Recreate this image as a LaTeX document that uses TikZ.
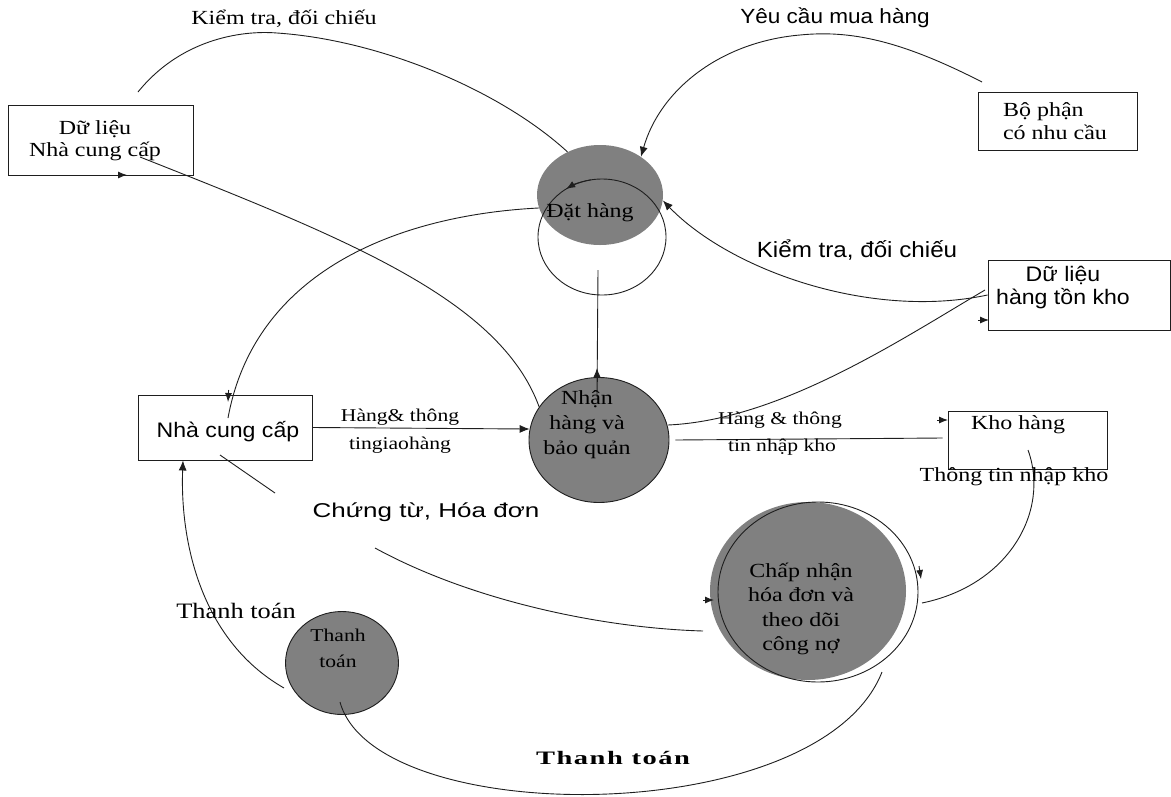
\documentclass[tikz,border=0pt]{standalone}
\usepackage{fontspec}
\setmainfont{Liberation Serif}
\newfontfamily\dfdserif[FakeStretch=1.2]{Liberation Serif}
\newfontfamily\dfdsans[FakeStretch=1.1]{Liberation Sans}
\newfontfamily\dfdsanswide[FakeStretch=1.3]{Liberation Sans}
\newfontfamily\dfdwide[FakeStretch=1.5,LetterSpace=8]{Liberation Serif}
\usetikzlibrary{arrows.meta,shapes.geometric}
\definecolor{procgray}{RGB}{128,128,128}
\definecolor{inkline}{RGB}{30,30,30}

\begin{document}
\begin{tikzpicture}[x=1pt,y=-1pt,
  line/.style={draw=inkline,line width=0.9pt},
  arr/.style={line,-{Latex[length=10pt,width=8pt]}},
  arrowmark/.style={draw=inkline,line width=0.9pt,-{Latex[length=9pt,width=7pt]}},
  box/.style={draw=inkline,line width=0.9pt,rectangle,inner sep=0pt},
  proc/.style={ellipse,fill=procgray,inner sep=0pt},
  ring/.style={ellipse,draw=inkline,line width=0.9pt,inner sep=0pt},
  serif/.style={font=\dfdserif\fontsize{#1}{#1}\selectfont,inner sep=0pt,align=center},
  sans/.style={font=\dfdsans\fontsize{#1}{#1}\selectfont,inner sep=0pt,align=center}
]
\useasboundingbox (0,0) rectangle (1171,796);
\clip (0,0) rectangle (1171,796);

% ---------- external entities ----------
\node[box,minimum width=185pt,minimum height=70pt] (dlncc) at (100.5,140) {};
\node[serif=20,font=\dfdserif\fontsize{20}{22}\selectfont] (dlncc-t) at (95,141) {Dữ liệu\\Nhà cung cấp};

\node[box,minimum width=159pt,minimum height=58pt] (bophan) at (1057.5,121) {};
\node[serif=20,font=\dfdserif\fontsize{20}{23}\selectfont,align=left] (bophan-t) at (1055,121) {Bộ phận\\có nhu cầu};

\node[box,minimum width=182.5pt,minimum height=70pt] (dlhtk) at (1079.25,295) {};
\node[sans=21,font=\dfdsans\fontsize{21}{23}\selectfont] (dlhtk-t) at (1063,288) {Dữ liệu\\hàng tồn kho};

\node[box,minimum width=174pt,minimum height=65pt] (ncc) at (225,427.5) {};
\node[sans=21] (ncc-t) at (228,432) {Nhà cung cấp};

\node[box,minimum width=159pt,minimum height=58pt] (kho) at (1027.5,440) {};
\node[serif=20] (kho-t) at (1018,425) {Kho hàng};

% ---------- processes ----------
\node[proc,minimum width=126pt,minimum height=100pt] (dat) at (600,195) {};
\node[ring,minimum width=128pt,minimum height=116pt] (datloop) at (602,237) {};
\node[serif=20] (dat-t) at (590,213) {Đặt hàng};

\node[proc,draw=inkline,line width=0.9pt,minimum width=140pt,minimum height=125pt] (nhan) at (599,440) {};
\node[serif=20,font=\dfdserif\fontsize{20}{25}\selectfont] (nhan-t) at (587,425) {Nhận\\hàng và\\bảo quản};

\node[proc,minimum width=196pt,minimum height=178pt] (chap) at (808,591) {};
\node[ring,minimum width=200pt,minimum height=180pt] (chapring) at (818,592) {};
\node[serif=20,font=\dfdserif\fontsize{20}{24.5}\selectfont] (chap-t) at (801,609) {Chấp nhận\\hóa đơn và\\theo dõi\\công nợ};

\node[proc,draw=inkline,line width=0.9pt,minimum width=113pt,minimum height=103pt] (tt) at (342,663) {};
\node[serif=18,font=\dfdserif\fontsize{18}{26}\selectfont] (tt-t) at (338,648) {Thanh\\toán};

% ---------- free ends of the flows ----------
\coordinate (kt1) at (138,92);
\coordinate (yc1) at (982,82);
\coordinate (ncc-in) at (228,418);
\coordinate (dlncc-in) at (140,157);
\coordinate (loop-in) at (598,270);
\coordinate (nhan-in) at (597,397);
\coordinate (nhan-r) at (668,425);
\coordinate (dlhtk-l) at (985,290);
\coordinate (kho-in) at (1028,450);
\coordinate (chap-r) at (922,603);
\coordinate (ct1) at (220,455);
\coordinate (ct2) at (275,493);
\coordinate (ct3) at (375,548);
\coordinate (chap-l) at (703,631);
\coordinate (tt-l) at (284,688);
\coordinate (tt-in) at (340,702);
\coordinate (chap-b) at (882,672);

% ---------- flows ----------
% check against supplier data
\draw[line] (kt1) .. controls (180,40) and (240,30) .. (277,33)
  .. controls (380,40) and (500,90) .. (dat.127);
\node[serif=20] (kt1-l) at (284,19) {Kiểm tra, đối chiếu};

% purchase request
\draw[arr] (yc1) .. controls (900,40) and (850,30) .. (800,35)
  .. controls (720,42) and (660,90) .. (dat.43);
\node[sans=20.5] (yc-l) at (835,18) {Yêu cầu mua hàng};

% check against stock data
\draw[arr] (dlhtk.west) .. controls (870,320) and (730,270) .. (dat.-5);
\node[sans=22] (kt2-l) at (857,250) {Kiểm tra, đối chiếu};

% loop on the ordering process
\draw[arrowmark] (602,237) ++(-100:64 and 58)
  arc[start angle=-100,end angle=-124,x radius=64,y radius=58];

% order sent to supplier
\draw[line] (dat.192) .. controls (400,215) and (255,270) .. (ncc-in);
\draw[arrowmark] (228.6,390) -- (228,402);

% receipt updates supplier data
\draw[line] (nhan.151) .. controls (500,300) and (350,240) .. (dlncc-in);
\draw[arrowmark] (116,175) -- (127,175);

% ordering to receiving
\draw[line] (loop-in) -- (nhan-in);
\draw[arrowmark] (597,382) -- (597,368);

% goods and delivery note
\draw[arr] (ncc.east) -- (nhan.171);
\node[serif=18] (gh1) at (400,417) {Hàng\& thông};
\node[serif=18] (gh2) at (400,445) {tingiaohàng};

% receiving to warehouse
\draw[line] ([xshift=6pt]nhan.east) -- ([xshift=-5pt,yshift=2pt]kho.west);
\draw[arrowmark] (937,420) -- (948,420);
\node[serif=18] (nk1) at (780,420) {Hàng \& thông};
\node[serif=18] (nk2) at (782,447) {tin nhập kho};

% receiving updates stock data
\draw[line] (nhan-r) .. controls (780,420) and (900,340) .. (dlhtk-l);
\draw[arrowmark] (978,320) -- (989,320);

% warehouse to invoice acceptance
\draw[line] (kho-in) .. controls (1050,510) and (1010,585) .. (chap-r);
\draw[arrowmark] (919,566) -- (921,579);
\node[serif=20] (tnk-l) at (1014,477) {Thông tin nhập kho};

% documents and invoices
\draw[line] (ct1) -- (ct2);
\draw[line] (ct3) .. controls (470,600) and (600,628) .. (chap-l);
\draw[arrowmark] (703,600) -- (714,600);
\node[font=\dfdsanswide\fontsize{20}{20}\selectfont,inner sep=0pt] (ct-l) at (426,512) {Chứng từ, Hóa đơn};

% payment to supplier
\draw[arr] (tt-l) .. controls (200,640) and (180,540) .. ([xshift=-42pt]ncc.south);
\node[serif=22] (tt1-l) at (236,611) {Thanh toán};

% payment approval
\draw[line] (tt-in) .. controls (375,830) and (820,830) .. (chap-b);
\node[font=\dfdwide\bfseries\fontsize{19}{19}\selectfont,inner sep=0pt] (tt2-l) at (613,758) {Thanh toán};
\end{tikzpicture}
\end{document}
